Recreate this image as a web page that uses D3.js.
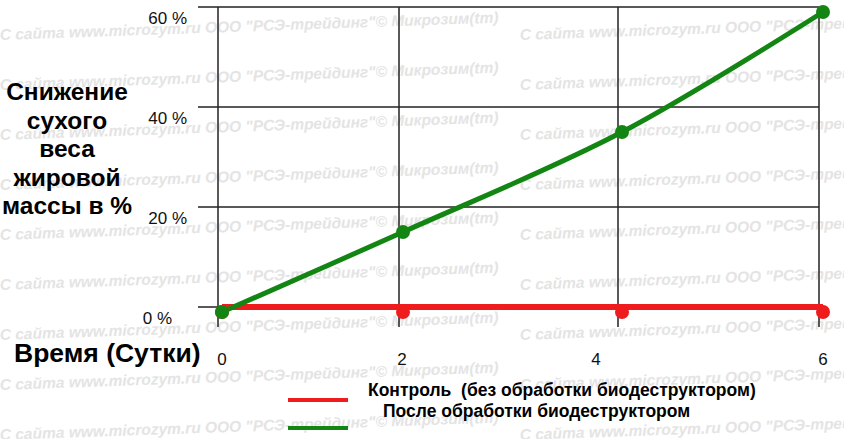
<!DOCTYPE html>
<html><head><meta charset="utf-8">
<script src="https://cdn.jsdelivr.net/npm/d3@7/dist/d3.min.js"></script>
<style>body{margin:0;background:#fff}svg{display:block}</style>
</head><body><script>
const days = [0, 2, 4, 6];
const controlValues = [0, 0, 0, 0];
const treatedValues = [0, 16, 36, 60];
const yTicks = [0, 20, 40, 60];
const yTickLabels = ["0 %", "20 %", "40 %", "60 %"];
const xTickLabels = ["0", "2", "4", "6"];
const seriesNames = ["Контроль  (без обработки биодеструктором)", "После обработки биодеструктором"];
const yTitleLines = ["Снижение", "сухого", "веса", "жировой", "массы в %"];
const xTitle = "Время (Сутки)";
const watermark = "С сайта www.microzym.ru ООО \"РСЭ-трейдинг\"© Микрозим(tm)";

const W = 844, H = 439;
const RED = "#ee1c1c", GREEN = "#128512", GRID = "#222";
const svg = d3.select("body").append("svg").attr("width", W).attr("height", H)
  .style("font-family", "Arial, 'Liberation Sans', sans-serif");

// watermark
const wm = svg.append("g").attr("fill", "#e4e4e4")
  .style("font-size", "15.5px").style("font-weight", "bold").style("font-style", "italic");
for (let c = 0; c < 2; c++) {
  for (let r = 0; r < 9; r++) {
    wm.append("text").attr("transform", `translate(${c * 520},${40 + r * 50}) rotate(-2)`).text(watermark);
  }
}

const x = d3.scaleLinear().domain(days).range([218, 399, 618, 819]);
const xLab = d3.scaleLinear().domain(days).range([222, 402, 596, 823]);
const y = d3.scaleLinear().domain([0, 60]).range([307, 7]);

// grid
const grid = svg.append("g").attr("stroke", GRID).attr("stroke-width", 1.5);
grid.selectAll(".h").data(yTicks).join("line")
  .attr("x1", 198).attr("x2", x(6)).attr("y1", d => y(d)).attr("y2", d => y(d));
grid.selectAll(".v").data(days).join("line")
  .attr("x1", d => x(d)).attr("x2", d => x(d)).attr("y1", y(60)).attr("y2", y(0) + 20);

// y tick labels
svg.append("g").style("font-size", "17px").attr("fill", "#111")
  .selectAll("text").data(yTicks).join("text")
  .attr("x", d => d === 0 ? 172 : 187).attr("y", d => y(d) + 17)
  .attr("text-anchor", "end").text((d, i) => yTickLabels[i]);

// x tick labels
svg.append("g").style("font-size", "17px").attr("fill", "#111")
  .selectAll("text").data(days).join("text")
  .attr("x", d => xLab(d)).attr("y", 365).attr("text-anchor", "middle")
  .text((d, i) => xTickLabels[i]);

// y title
svg.append("g").style("font-size", "24.5px").style("font-weight", "bold").attr("fill", "#000")
  .selectAll("text").data(yTitleLines).join("text")
  .attr("x", 67).attr("y", (d, i) => 100 + i * 28.5).attr("text-anchor", "middle").text(d => d);

// x title
svg.append("text").attr("x", 14).attr("y", 362).style("font-size", "26.5px").style("font-weight", "bold")
  .attr("fill", "#000").text(xTitle);

// series
const off = "translate(4,5)";
const line = d3.line().x((d, i) => x(days[i])).y(d => y(d));
svg.append("path").datum(controlValues).attr("d", line.curve(d3.curveLinear))
  .attr("transform", "translate(4,0)")
  .attr("fill", "none").attr("stroke", RED).attr("stroke-width", 6);
svg.append("path").datum(treatedValues)
  .attr("d", d3.line().x((d, i) => x(days[i])).y(d => y(d)).curve(d3.curveCatmullRom)(treatedValues))
  .attr("transform", off)
  .attr("fill", "none").attr("stroke", GREEN).attr("stroke-width", 5).attr("stroke-linejoin", "round").attr("stroke-linecap", "round");
svg.append("g").attr("transform", off).selectAll("circle").data(controlValues).join("circle")
  .attr("cx", (d, i) => x(days[i])).attr("cy", d => y(d)).attr("r", 7).attr("fill", RED);
svg.append("g").attr("transform", off).selectAll("circle").data(treatedValues).join("circle")
  .attr("cx", (d, i) => x(days[i])).attr("cy", d => y(d)).attr("r", 7).attr("fill", GREEN);

// legend
const leg = svg.append("g");
[RED, GREEN].forEach((col, i) => {
  leg.append("line").attr("x1", 288).attr("x2", 348).attr("y1", 400 + i * 28).attr("y2", 400 + i * 28)
    .attr("stroke", col).attr("stroke-width", 4);
});
leg.append("text").attr("x", 368).attr("y", 396).style("font-size", "17.5px").style("font-weight", "bold")
  .attr("fill", "#000").attr("xml:space", "preserve").style("white-space", "pre").text(seriesNames[0]);
leg.append("text").attr("x", 383).attr("y", 417).style("font-size", "17.5px").style("font-weight", "bold")
  .attr("fill", "#000").text(seriesNames[1]);
</script></body></html>
